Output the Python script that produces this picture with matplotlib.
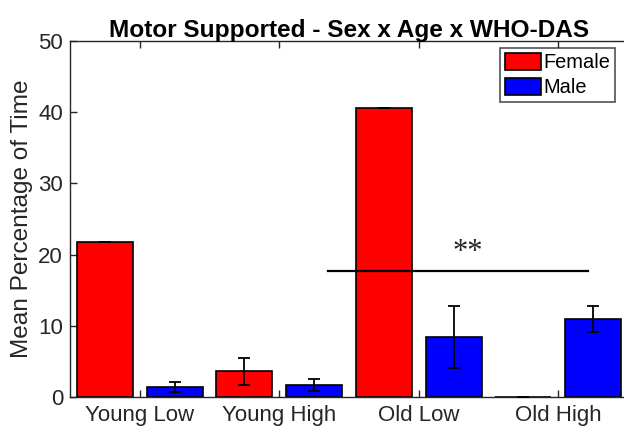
import matplotlib
matplotlib.use("Agg")
import matplotlib.pyplot as plt
import numpy as np

categories = ["Young Low", "Young High", "Old Low", "Old High"]
female_mean = [21.8, 3.6, 40.6, 0.0]
female_err = [0.0, 1.85, 0.0, 0.0]
male_mean = [1.35, 1.7, 8.45, 11.0]
male_err = [0.7, 0.8, 4.4, 1.85]
series_names = ["Female", "Male"]
sig_x = [2.35, 4.215]
sig_y = 17.7
sig_text = "**"
sig_text_pos = (3.35, 20.3)
title = "Motor Supported - Sex x Age x WHO-DAS"
ylabel = "Mean Percentage of Time"

AX = "#262626"
plt.rcParams['font.family'] = ['Liberation Sans', 'DejaVu Sans']

fig = plt.figure(figsize=(6.24, 4.32), dpi=100)
ax = fig.add_axes([70/624, 35/432, 558/624, 356/432])

x = np.arange(1, len(categories) + 1)
w = 0.4
off = 0.25
ax.bar(x - off, female_mean, w, color="#ff0000", edgecolor="black", linewidth=1.2,
       label=series_names[0], zorder=2)
ax.bar(x + off, male_mean, w, color="#0000ff", edgecolor="black", linewidth=1.2,
       label=series_names[1], zorder=2)
ax.errorbar(x - off, female_mean, yerr=female_err, fmt="none", ecolor="black",
            elinewidth=1.3, capsize=4, capthick=1.3, zorder=3)
ax.errorbar(x + off, male_mean, yerr=male_err, fmt="none", ecolor="black",
            elinewidth=1.3, capsize=4, capthick=1.3, zorder=3)

ax.plot(sig_x, [sig_y, sig_y], color="black", linewidth=1.6, zorder=4)
ax.text(sig_text_pos[0], sig_text_pos[1], sig_text, ha="center", va="center",
        fontsize=22, family=["Liberation Serif", "DejaVu Serif"], color="#262626")

ax.set_xlim(0.5, 4.5)
ax.set_ylim(0, 50)
ax.set_yticks([0, 10, 20, 30, 40, 50])
ax.set_xticks(x)
ax.set_xticklabels(categories)

ax.tick_params(direction="in", length=5, width=1, colors=AX, labelsize=16,
               top=True, right=False)
ax.tick_params(axis="x", pad=6)
ax.tick_params(axis="y", pad=5)
for s in ax.spines.values():
    s.set_color(AX)
    s.set_linewidth(1.0)

ax.set_title(title, fontsize=17.6, fontweight="bold", color="black", pad=3)
ax.set_ylabel(ylabel, fontsize=17.6, color=AX, labelpad=4)

leg = ax.legend(loc="upper right", bbox_to_anchor=(615/624, 1 - 48/432),
                bbox_transform=fig.transFigure, borderaxespad=0, fontsize=14.4,
                frameon=True, fancybox=False, edgecolor=AX, handlelength=1.8,
                handleheight=0.9, handletextpad=0.1, borderpad=0.25,
                labelspacing=0.3)
leg.get_frame().set_linewidth(1.2)

fig.savefig("out.png", dpi=100)
